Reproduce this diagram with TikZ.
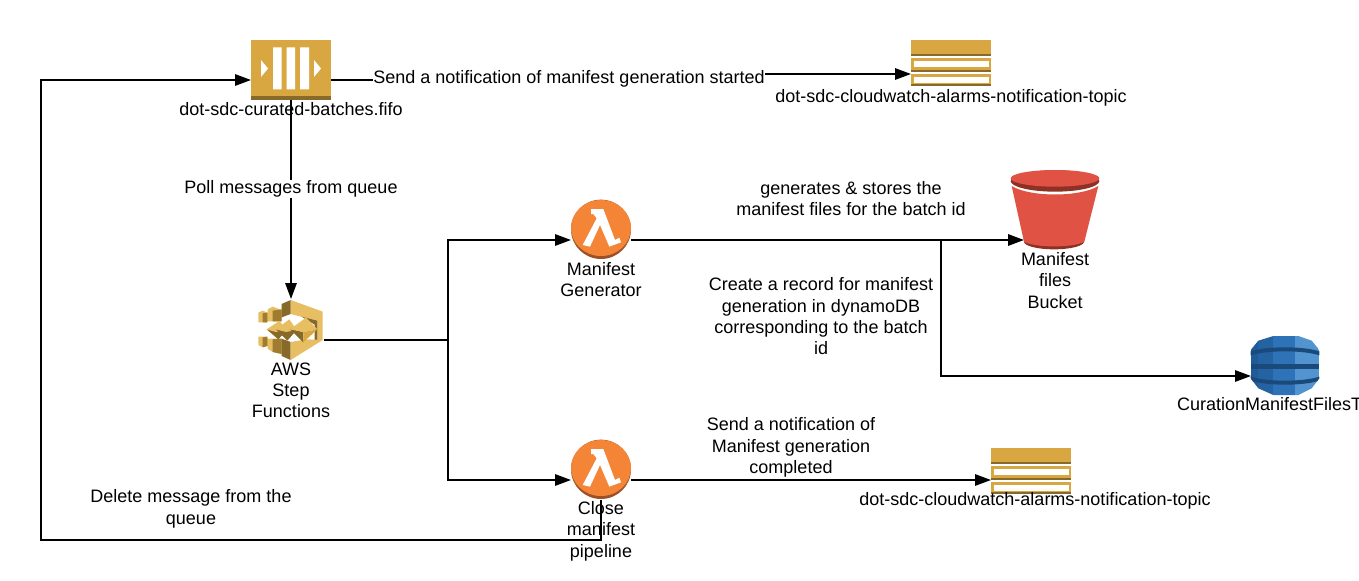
\documentclass[tikz,border=0pt]{standalone}
\usepackage{fontspec}
\setmainfont{Liberation Sans}
\usetikzlibrary{arrows.meta}
\definecolor{gold}{HTML}{D9A741}
\definecolor{golddark}{HTML}{876929}
\definecolor{goldlight}{HTML}{E8BE63}
\definecolor{orng}{HTML}{F58536}
\definecolor{orngdark}{HTML}{9D5025}
\definecolor{redb}{HTML}{E05243}
\definecolor{reddark}{HTML}{8C3123}
\definecolor{blue1}{HTML}{2E73B8}
\definecolor{blue2}{HTML}{205B99}
\definecolor{blue3}{HTML}{5294CF}
\definecolor{blue4}{HTML}{1A4A7A}
\tikzset{
  iconbox/.style={inner sep=0pt,outer sep=0pt,draw=none},
  conn/.style={line width=1.5pt,line cap=butt,line join=miter},
  arrowconn/.style={conn,-{Triangle[length=12pt,width=8.5pt]},shorten >=0pt},
  lbl/.style={font=\fontsize{13.5}{16.1}\selectfont,align=center,inner sep=0pt,outer sep=0pt,text=black},
  whitelbl/.style={lbl,fill=white,inner sep=.5pt},
  zoomed/.style={x=.25pt,y=-.25pt}
}
\newcommand{\snsicon}[2]{%
  \begin{scope}[shift={(#1,#2)},zoomed]
    \fill[gold] (63,30) rectangle (303,72);
    \fill[golddark] (63,72) rectangle (303,78);
    \fill[gold] (63,84) rectangle (303,120);
    \fill[golddark] (63,120) rectangle (303,126);
    \fill[white] (72,92) rectangle (297,112);
    \fill[gold] (63,132) rectangle (303,162);
    \fill[golddark] (63,162) rectangle (303,168);
    \fill[white] (72,140) rectangle (297,158);
  \end{scope}}
\newcommand{\lambdaicon}[2]{%
  \begin{scope}[shift={(#1,#2)},zoomed]
    \fill[orngdark] (153,118) ellipse [x radius=90,y radius=89];
    \fill[orng] (153,114) ellipse [x radius=90,y radius=84];
    \fill[white] (123,57)--(160,57)--(195,150)--(208,143)--(213,157)--(178,170)--(150,105)--(120,170)--(98,165)--(140,85)--(130,72)--(123,72)--cycle;
  \end{scope}}
\begin{document}
\begin{tikzpicture}[x=.75pt,y=-.75pt]
\useasboundingbox (0,0) rectangle (1359,581);
\fill[white] (0,0) rectangle (1359,581);

% anchor nodes of the icons
\node[iconbox,minimum width=60pt,minimum height=30pt] (sqs) at (291,80) {};
\node[iconbox,minimum width=60pt,minimum height=18pt] (snsa) at (951,74) {};
\node[iconbox,minimum width=60pt,minimum height=18pt] (snsb) at (1031,480) {};
\node[iconbox,minimum width=49pt,minimum height=61.5pt] (step) at (291,340) {};
\node[iconbox,minimum width=45pt,minimum height=30pt] (gen) at (601,240) {};
\node[iconbox,minimum width=45pt,minimum height=30pt] (close) at (601,480) {};
\node[iconbox,minimum width=46pt,minimum height=30pt] (bucket) at (1054.7,240) {};
\node[iconbox,minimum width=51pt,minimum height=30pt] (dyn) at (1285,376) {};
\coordinate (fork) at (447.5,340);
\coordinate (tee) at (941,240);
\coordinate (elbowa) at (570,80);
\coordinate (elbowb) at (570,74);
\coordinate (bl) at (41,540);

% SQS
\fill[gold] (251,40) rectangle (331,96);
\fill[golddark] (251,96) rectangle (331,100);
\fill[white] (273,47.5) rectangle (281.7,89.5) (286.7,47.5) rectangle (295,89.5) (300,47.5) rectangle (309,89.5);
\fill[white] (261,60)--(268,68.5)--(261,77)--cycle (314,60)--(321,68.5)--(314,77)--cycle;

\snsicon{890}{30}
\snsicon{970}{438}
\lambdaicon{550}{190}
\lambdaicon{550}{430}

% Step Functions
\begin{scope}[shift={(240,290)},zoomed]
  % back blocks
  \fill[goldlight] (55,68)--(68,62)--(82,68)--(82,97)--(55,97)--cycle (83,58)--(98,50)--(125,60)--(125,94)--(83,94)--cycle;
  \fill[golddark!70!gold] (68,70)--(82,68)--(82,97)--(68,97)--cycle (98,62)--(125,58)--(125,94)--(98,94)--cycle;
  \fill[goldlight] (55,140)--(82,140)--(82,168)--(68,172)--(55,165)--cycle (83,146)--(125,146)--(125,192)--(98,186)--(83,176)--cycle;
  \fill[golddark!70!gold] (68,142)--(82,140)--(82,168)--(68,172)--cycle (98,148)--(125,146)--(125,192)--(98,186)--cycle;
  % bracket
  \fill[goldlight] (152,30)--(248,65)--(248,150)--(232,150)--(232,92)--(152,72)--cycle;
  \fill[golddark] (125,42)--(152,30)--(152,72)--(125,82)--cycle;
  \fill[golddark] (185,80)--(232,92)--(232,150)--(224,150)--(224,104)--cycle;
  \fill[golddark] (125,146)--(152,156)--(152,210)--(125,198)--cycle;
  \fill[goldlight] (152,156)--(200,148)--(248,150)--(152,210)--cycle;
  % chevrons
  \fill[golddark] (80,118)--(115,148)--(140,120)--cycle;
  \fill[goldlight] (80,118)--(118,93)--(140,120)--(108,126)--cycle;
  \fill[golddark] (108,118)--(142,152)--(170,120)--cycle;
  \fill[goldlight] (108,118)--(148,88)--(170,120)--(138,126)--cycle;
  \fill[golddark] (150,118)--(190,157)--(190,126)--cycle;
  \fill[goldlight] (150,118)--(198,83)--(232,118)--(190,126)--cycle;
  \fill[gold] (190,126)--(232,118)--(190,157)--cycle;
\end{scope}

% Bucket
\begin{scope}[shift={(990,160)},zoomed]
  \fill[reddark] (192,245) ellipse [x radius=90,y radius=23];
  \fill[redb] (65,78) .. controls (120,112) and (270,112) .. (325,78) -- (283,245) .. controls (250,264) and (135,264) .. (102,245) -- cycle;
  \fill[reddark] (195,63) ellipse [x radius=133,y radius=32];
  \fill[redb] (195,55) ellipse [x radius=133,y radius=25];
\end{scope}

% DynamoDB
\begin{scope}[shift={(1230,320)},zoomed]
  \begin{scope}
    \clip (62,90)--(85,62)--(130,48)--(205,48)--(245,62)--(268,90)--(268,175)--(245,205)--(205,225)--(130,225)--(85,205)--(62,175)--cycle;
    \fill[blue2] (62,40) rectangle (85,230);
    \fill[blue2!70!blue1] (85,40) rectangle (130,230);
    \fill[blue1] (130,40) rectangle (195,230);
    \fill[blue3] (195,40) rectangle (268,230);
    \fill[blue4] (62,94) .. controls (110,78) and (220,78) .. (268,94) -- (268,106) .. controls (220,90) and (110,90) .. (62,106) -- cycle;
    \fill[blue4] (62,132) rectangle (268,146);
    \fill[blue4] (62,170) .. controls (110,186) and (220,186) .. (268,170) -- (268,182) .. controls (220,198) and (110,198) .. (62,182) -- cycle;
  \end{scope}
\end{scope}

% connectors
\draw[arrowconn] (close.south) -- (close.south |- bl) -- (bl) -- (bl |- sqs.west) -- (sqs.west);
\draw[arrowconn] (sqs.east) -- (elbowa) -- (elbowb) -- (snsa.west);
\draw[arrowconn] (sqs.south) -- (step.north);
\draw[conn] (step.east) -- (fork);
\draw[arrowconn] (fork) |- (gen.west);
\draw[arrowconn] (fork) |- (close.west);
\draw[arrowconn] (gen.east) -- (bucket.west);
\draw[arrowconn] (tee) |- (dyn.west);
\draw[arrowconn] (close.east) -- (snsb.west);

% labels
\node[whitelbl] (t1) at (569,78.5) {Send a notification of manifest generation started};
\node[lbl] (t2) at (291,108.7) {dot-sdc-curated-batches.fifo};
\node[lbl] (t3) at (951,97.7) {dot-sdc-cloudwatch-alarms-notification-topic};
\node[whitelbl] (t4) at (291,189) {Poll messages from queue};
\node[lbl] (t5) at (851,198.7) {generates \& stores the\\manifest files for the batch id};
\node[lbl] (t6) at (1055,280.3) {Manifest\\files\\Bucket};
\node[lbl] (t7) at (601,279.3) {Manifest\\Generator};
\node[lbl] (t8) at (821,316.3) {Create a record for manifest\\generation in dynamoDB\\corresponding to the batch\\id};
\node[lbl] (t9) at (291,390.3) {AWS\\Step\\Functions};
\node[lbl,anchor=west] (t10) at (1177,404.5) {CurationManifestFilesT};
\node[lbl] (t11) at (791,447.5) {Send a notification of\\Manifest generation\\completed};
\node[lbl] (t12) at (1035,501) {dot-sdc-cloudwatch-alarms-notification-topic};
\node[lbl] (t13) at (191,509) {Delete message from the\\queue};
\node[lbl] (t14) at (601,531) {Close\\manifest\\pipeline};
\end{tikzpicture}
\end{document}
